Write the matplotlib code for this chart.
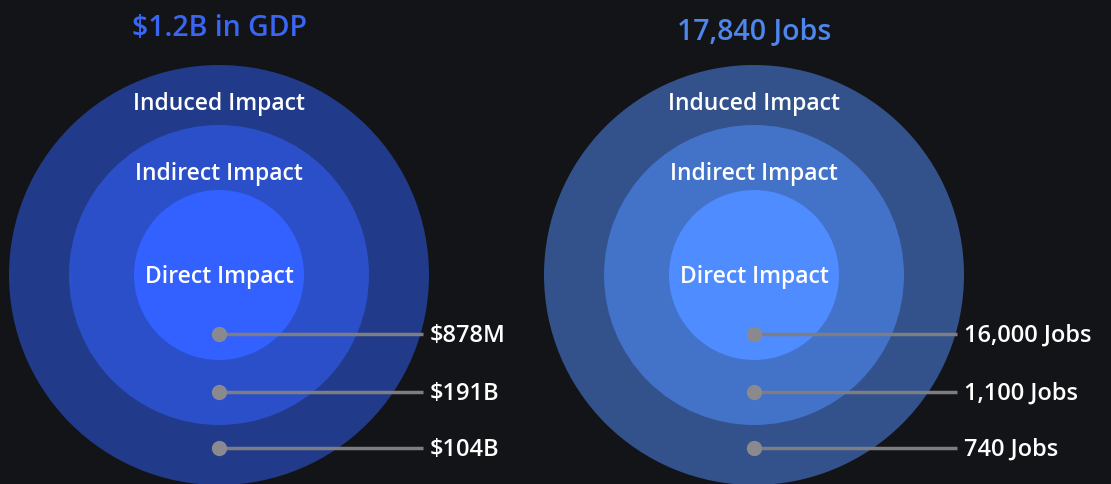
import matplotlib.pyplot as plt
from matplotlib.patches import Circle

# chart data
titles = ['$1.2B in GDP', '17,840 Jobs']
rings = ['Induced Impact', 'Indirect Impact', 'Direct Impact']
gdp_values = ['$878M', '$191B', '$104B']
job_values = ['16,000 Jobs', '1,100 Jobs', '740 Jobs']

BG = '#131417'
FONT = ['Open Sans', 'DejaVu Sans']

# per-panel styling: outer, middle, inner colours and title colour
panels = [
    {'cx': 219, 'colors': ['#213a8a', '#2a4fc9', '#3361ff'], 'title_color': '#3a66f5',
     'title_y': 28, 'values': gdp_values, 'line_end': 423},
    {'cx': 754, 'colors': ['#33528c', '#4372c9', '#4f8cff'], 'title_color': '#4d86ec',
     'title_y': 32, 'values': job_values, 'line_end': 957},
]
radii = [210, 150, 85]
ring_label_y = [104, 174, 277]
cy = 275
dot_y = [334, 392, 448]


def draw_panel(ax, title, p):
    cx = p['cx']
    for r, c in zip(radii, p['colors']):
        ax.add_patch(Circle((cx, cy), r, facecolor=c, edgecolor='none', zorder=1))
    for name, y in zip(rings, ring_label_y):
        ax.text(cx, y, name, color='white', fontsize=16.5, fontweight='semibold',
                ha='center', va='center', family=FONT, zorder=3)
    ax.text(cx, p['title_y'], title, color=p['title_color'], fontsize=20.5,
            fontweight='semibold', ha='center', va='center', family=FONT, zorder=3)
    for val, y in zip(p['values'], dot_y):
        ax.plot([cx, p['line_end']], [y, y], color='#7e7e82', lw=2.5,
                solid_capstyle='butt', zorder=2)
        ax.plot(cx, y, 'o', ms=11, color='#8a8a8e', mec='none', zorder=3)
        ax.text(p['line_end'] + 7, y + 2, val, color='white', fontsize=17,
                fontweight='semibold', ha='left', va='center', family=FONT, zorder=3)


fig = plt.figure(figsize=(11.11, 4.84), dpi=100, facecolor=BG)
ax = fig.add_axes([0, 0, 1, 1])
ax.set_facecolor(BG)
ax.set_xlim(0, 1111)
ax.set_ylim(484, 0)
ax.set_aspect('equal')
ax.axis('off')

for t, p in zip(titles, panels):
    draw_panel(ax, t, p)

fig.savefig('out.png', dpi=100, facecolor=BG)
